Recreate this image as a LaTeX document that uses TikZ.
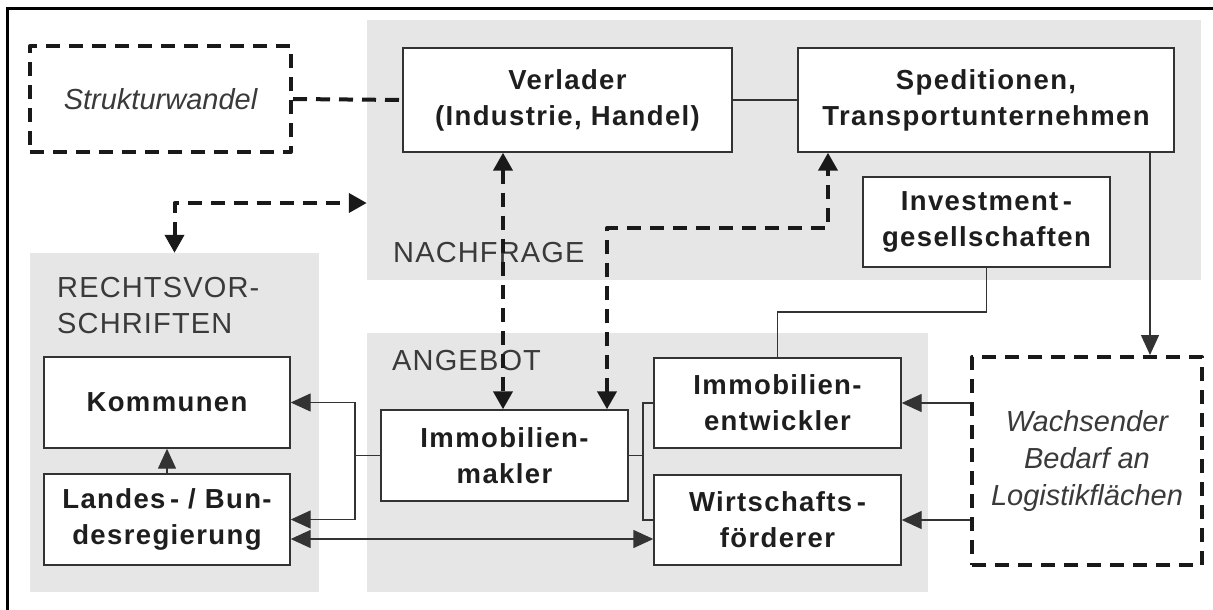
\documentclass[tikz,border=0pt]{standalone}
\usepackage{fontspec}
\setmainfont{Liberation Sans}
\newfontfamily\boxfam{Liberation Sans}[LetterSpace=5]
\newfontfamily\labfam{Liberation Sans}[LetterSpace=4]
\usetikzlibrary{arrows.meta}
\definecolor{panelgray}{HTML}{E6E6E6}
\definecolor{edge}{HTML}{333333}
\definecolor{inktext}{HTML}{1E1E1E}
\definecolor{labtext}{HTML}{3A3A3A}
\begin{document}
\begin{tikzpicture}[x=1pt,y=-1pt,
  panel/.style={fill=panelgray,draw=none,inner sep=0pt},
  box/.style={draw=edge,line width=1.4pt,fill=white,inner sep=0pt,align=center,
    text=inktext,font=\boxfam\bfseries\fontsize{27.5}{36}\selectfont},
  dbox/.style={draw=black!90,line width=4pt,dash pattern=on 14pt off 9pt,line join=round,
    fill=white,inner sep=0pt,align=center,text=labtext,
    font=\itshape\fontsize{29}{37}\selectfont},
  grouplabel/.style={inner sep=0pt,text=labtext,align=left,
    font=\labfam\fontsize{29}{36}\selectfont},
  thinline/.style={draw=edge,line width=1.4pt},
  arr/.style={thinline,-{Triangle[length=20pt,width=18pt]}},
  arrboth/.style={thinline,{Triangle[length=20pt,width=18pt]}-{Triangle[length=20pt,width=18pt]}},
  dashline/.style={draw=black!90,line width=4pt,dash pattern=on 14pt off 9pt,line join=round},
  dasharr/.style={dashline,{Triangle[length=18pt,width=19pt]}-{Triangle[length=18pt,width=19pt]}}
]
\useasboundingbox (0,0) rectangle (1213,610);

% outer frame (top and left edges only)
\draw[line width=2.5pt] (7.5,610) -- (7.5,8.5) -- (1213,8.5);

% grey group panels
\node[panel,minimum width=834pt,minimum height=260pt] (npanel) at (784,150) {};
\node[panel,minimum width=289pt,minimum height=339pt] (rpanel) at (174.5,422.5) {};
\node[panel,minimum width=561pt,minimum height=259pt] (apanel) at (647.5,462.5) {};

% group labels
\node[grouplabel,anchor=base west] (nlab) at (393,262) {NACHFRAGE};
\node[grouplabel,anchor=north west] (rlab) at (57,277) {RECHTSVOR-\\SCHRIFTEN};
\node[grouplabel,anchor=base west] (alab) at (392,370) {ANGEBOT};

% boxes
\node[dbox,minimum width=261pt,minimum height=106pt] (struk) at (160.5,99) {Strukturwandel};
\node[box,minimum width=329pt,minimum height=104pt] (verl) at (567.5,100) {Verlader\\(Industrie, Handel)};
\node[box,minimum width=376pt,minimum height=104pt] (sped) at (986,100) {Speditionen,\\Transportunternehmen};
\node[box,minimum width=247pt,minimum height=90pt] (invest) at (986.5,222) {Investment\,-\\gesellschaften};
\node[box,minimum width=246pt,minimum height=91pt] (komm) at (167,402.5) {Kommunen};
\node[box,minimum width=246pt,minimum height=91pt] (land) at (167,519.5) {Landes\,- / Bun-\\desregierung};
\node[box,minimum width=247pt,minimum height=91pt] (makl) at (504.5,455.5) {Immobilien-\\makler};
\node[box,minimum width=247pt,minimum height=90pt] (entw) at (777.5,403) {Immobilien-\\entwickler};
\node[box,minimum width=247pt,minimum height=90pt] (wirt) at (777.5,520) {Wirtschafts\,-\\förderer};
\node[dbox,minimum width=230pt,minimum height=208pt] (wachs) at (1087,461) {Wachsender\\Bedarf an\\Logistikflächen};

% routing points
\coordinate (rkink) at (174.5,203);
\coordinate (vx) at (503,0);
\coordinate (k1) at (607,228);
\coordinate (k2) at (828,228);
\coordinate (sx) at (1150,0);
\coordinate (iy) at (0,312);
\coordinate (mjl) at (355,455.5);
\coordinate (mjr) at (643,455.5);
\coordinate (ly) at (0,539);

% dashed links
\draw[dashline] (struk.east) -- (verl.west);
\draw[dasharr] (rpanel.north) -- (rkink) -- (rkink -| npanel.west);
\draw[dasharr] (verl.south -| vx) -- (makl.north -| vx);
\draw[dasharr] (makl.north -| k1) -- (k1) -- (k2) -- (sped.south -| k2);

% solid links
\draw[thinline] (verl.east) -- (sped.west);
\draw[arr] (sped.south -| sx) -- (wachs.north -| sx);
\draw[thinline] (invest.south) -- (invest.south |- iy) -| (entw.north);
\draw[arr] (wachs.west |- entw.east) -- (entw.east);
\draw[arr] (wachs.west |- wirt.east) -- (wirt.east);
\draw[arr] (land.north) -- (komm.south);
\draw[thinline] (makl.west) -- (mjl);
\draw[arr] (mjl) |- (komm.east);
\draw[arr] (mjl) |- (land.east);
\draw[thinline] (makl.east) -- (mjr);
\draw[thinline] (mjr) |- (entw.west);
\draw[thinline] (mjr) |- (wirt.west);
\draw[arrboth] (land.east |- ly) -- (wirt.west |- ly);
\end{tikzpicture}
\end{document}
